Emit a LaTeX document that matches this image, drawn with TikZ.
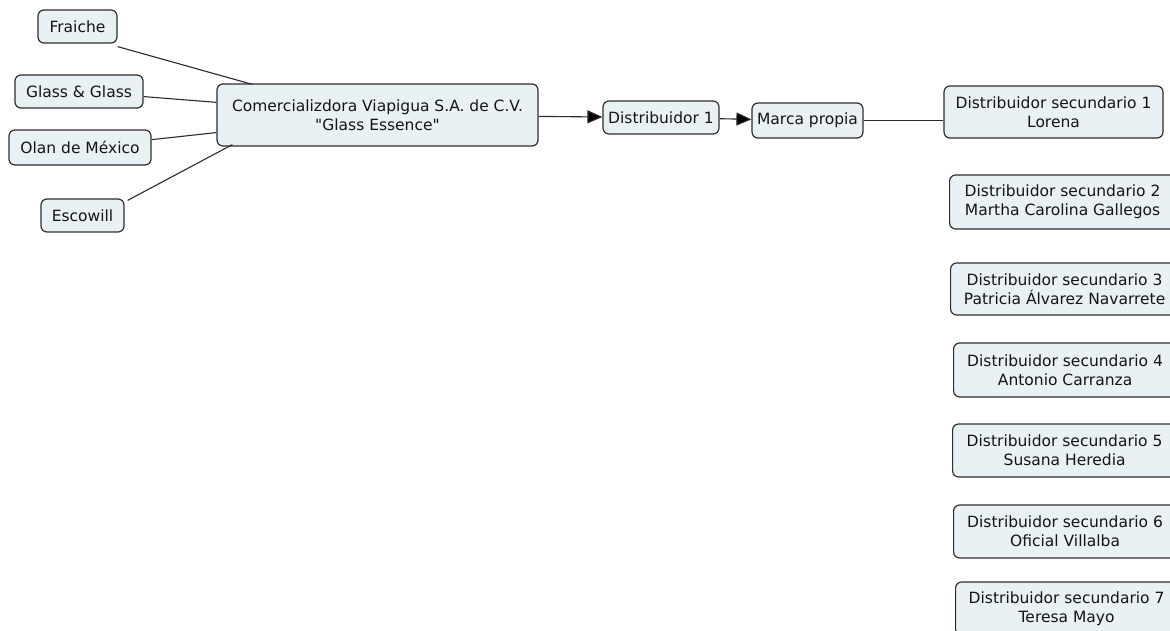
\documentclass[tikz,border=0pt]{standalone}
\usepackage{fontspec}
\setmainfont{DejaVu Sans}[Ligatures=TeXOff]
\usetikzlibrary{arrows.meta}
\definecolor{boxfill}{HTML}{EAF1F5}
\definecolor{boxline}{HTML}{2E2E2E}
\definecolor{txt}{HTML}{141414}
\definecolor{linkcol}{HTML}{2A2A2A}
\begin{document}
\begin{tikzpicture}[x=1pt,y=-1pt,
  concept/.style={draw=boxline, line width=1.2pt, fill=boxfill, rounded corners=6pt,
    text=txt, align=center, inner sep=0pt, font=\fontsize{15.5}{19}\selectfont},
  link/.style={draw=linkcol, line width=1.1pt},
  arr/.style={link, -{Triangle[length=15pt,width=13pt,fill=black]}}]
\useasboundingbox (0,0) rectangle (1170,631);
\fill[white] (0,0) rectangle (1170,631);
\clip (0,0) rectangle (1170,631);

% left source concepts
\node[concept, minimum width=79pt, minimum height=33pt] (fra) at (77.5,26.5) {Fraiche};
\node[concept, minimum width=128pt, minimum height=33pt] (gla) at (79,91.5) {Glass \& Glass};
\node[concept, minimum width=142pt, minimum height=35pt] (ola) at (80,147.5) {Olan de México};
\node[concept, minimum width=83pt, minimum height=33pt] (esc) at (82.5,215.5) {Escowill};

% main chain
\node[concept, minimum width=321pt, minimum height=62pt] (com) at (377.5,115)
  {Comercializdora Viapigua S.A. de C.V.\\"Glass Essence"};
\node[concept, minimum width=116pt, minimum height=33pt] (d1) at (661,117.5) {Distribuidor 1};
\node[concept, minimum width=111pt, minimum height=35pt] (mp) at (807.5,120.5) {Marca propia};
\node[concept, minimum width=219pt, minimum height=52pt] (ds1) at (1053.5,112)
  {Distribuidor secundario 1\\Lorena};

% secondary distributors
\node[concept, anchor=west, minimum width=226pt, minimum height=54pt] (ds2) at (949,202)
  {Distribuidor secundario 2\\Martha Carolina Gallegos};
\node[concept, anchor=west, minimum width=228pt, minimum height=52pt] (ds3) at (950,289)
  {Distribuidor secundario 3\\Patricia Álvarez Navarrete};
\node[concept, anchor=west, minimum width=223pt, minimum height=54pt] (ds4) at (953,370)
  {Distribuidor secundario 4\\Antonio Carranza};
\node[concept, anchor=west, minimum width=224pt, minimum height=53pt] (ds5) at (952,450.5)
  {Distribuidor secundario 5\\Susana Heredia};
\node[concept, anchor=west, minimum width=223pt, minimum height=53pt] (ds6) at (953,531.5)
  {Distribuidor secundario 6\\Oficial Villalba};
\node[concept, anchor=west, minimum width=222pt, minimum height=53pt] (ds7) at (955,608.5)
  {Distribuidor secundario 7\\Teresa Mayo};

% connectors
\draw[link] ([yshift=-3pt]fra.south east) -- ([xshift=36pt,yshift=-1pt]com.north west);
\draw[link] (gla) -- (com);
\draw[link] (ola) -- (com);
\draw[link] ([xshift=3pt,yshift=-2pt]esc.north east) -- ([xshift=16pt,yshift=2pt]com.south west);
\draw[arr] (com) -- (d1);
\draw[arr] (d1) -- (mp);
\draw[link] (mp.east) -- (ds1.west |- mp.east);
\end{tikzpicture}
\end{document}
